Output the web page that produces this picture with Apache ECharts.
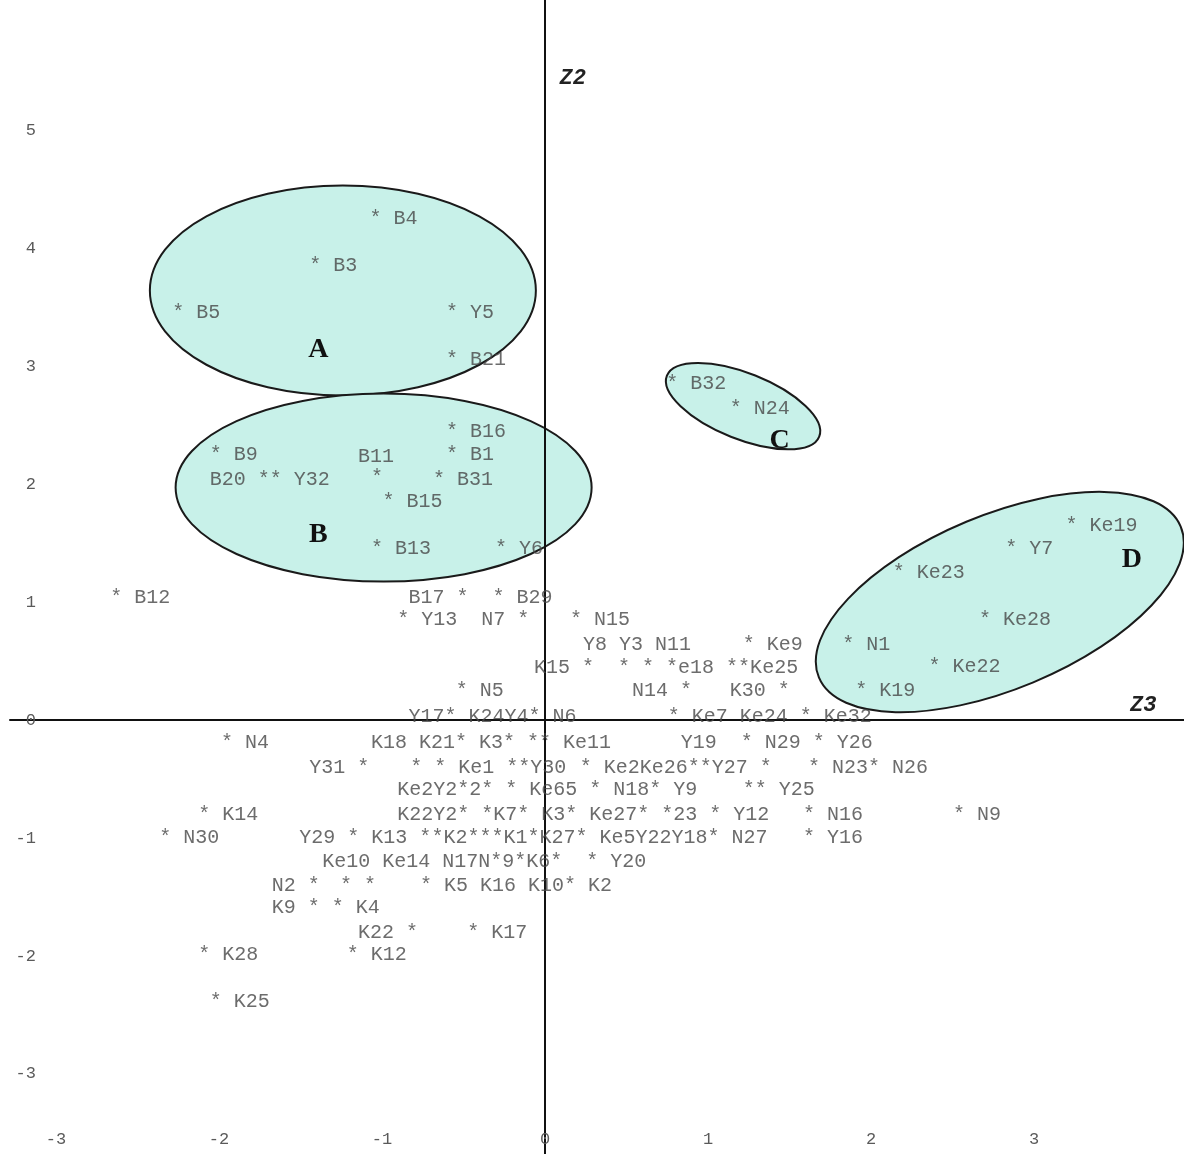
<!DOCTYPE html>
<html>
<head>
<meta charset="utf-8">
<script src="https://cdn.jsdelivr.net/npm/echarts@6/dist/echarts.min.js"></script>
<style>
html, body { margin: 0; padding: 0; background: #fff; }
#chart { width: 1184px; height: 1154px; }
</style>
</head>
<body>
<div id="chart"></div>
<script>
// tick labels
const xTicks = [-3, -2, -1, 0, 1, 2, 3];
const yTicks = [-3, -2, -1, 0, 1, 2, 3, 4, 5];

// [z3, z2, label]  (overlapping labels kept as printed)
const groupA = [
    [-1.08, 4.25, "* B4"],
    [-1.45, 3.85, "* B3"],
    [-2.29, 3.45, "* B5"],
    [-0.61, 3.45, "* Y5"],
    [-0.61, 3.05, "* B21"],
];
const groupB = [
    [-0.61, 2.44, "* B16"],
    [-2.06, 2.25, "* B9"],
    [-1.15, 2.23, "B11"],
    [-0.61, 2.25, "* B1"],
    [-2.06, 2.04, "B20 ** Y32"],
    [-1.07, 2.05, "*"],
    [-0.69, 2.04, "* B31"],
    [-1.00, 1.85, "* B15"],
    [-1.07, 1.45, "* B13"],
    [-0.31, 1.45, "* Y6"],
];
const groupC = [
    [0.74, 2.85, "* B32"],
    [1.13, 2.64, "* N24"],
];
const groupD = [
    [3.19, 1.65, "* Ke19"],
    [2.82, 1.45, "* Y7"],
    [2.13, 1.25, "* Ke23"],
    [2.66, 0.85, "* Ke28"],
    [1.82, 0.64, "* N1"],
    [2.35, 0.45, "* Ke22"],
    [1.90, 0.25, "* K19"],
];
const others = [
    [-2.67, 1.04, "* B12"],
    [-0.84, 1.04, "B17 *  * B29"],
    [-0.91, 0.85, "* Y13  N7 *"],
    [0.15, 0.85, "* N15"],
    [0.23, 0.64, "Y8 Y3 N11"],
    [1.21, 0.64, "* Ke9"],
    [-0.07, 0.44, "K15 *  * * *e18 **Ke25"],
    [-0.55, 0.25, "* N5"],
    [0.53, 0.25, "N14 *"],
    [1.13, 0.25, "K30 *"],
    [-0.84, 0.03, "Y17* K24Y4* N6"],
    [0.75, 0.03, "* Ke7 Ke24 * Ke32"],
    [-1.99, -0.19, "* N4"],
    [-1.07, -0.19, "K18 K21* K3* ** Ke11"],
    [0.83, -0.19, "Y19  * N29 * Y26"],
    [-1.45, -0.40, "Y31 *"],
    [-0.83, -0.40, "* * Ke1 **Y30"],
    [0.21, -0.40, "* Ke2Ke26**Y27 *"],
    [1.61, -0.40, "* N23* N26"],
    [-0.91, -0.59, "Ke2Y2*2* * Ke65 * N18* Y9"],
    [1.21, -0.59, "** Y25"],
    [-2.13, -0.80, "* K14"],
    [-0.91, -0.80, "K22Y2* *K7* K3* Ke27* *23 * Y12"],
    [1.58, -0.80, "* N16"],
    [2.50, -0.80, "* N9"],
    [-2.37, -1.00, "* N30"],
    [-1.51, -1.00, "Y29 * K13 **K2***K1*K27* Ke5Y22Y18* N27"],
    [1.58, -1.00, "* Y16"],
    [-1.37, -1.20, "Ke10 Ke14 N17N*9*K6*  * Y20"],
    [-1.68, -1.40, "N2 *"],
    [-1.26, -1.40, "* *"],
    [-0.77, -1.40, "* K5 K16 K10* K2"],
    [-1.68, -1.59, "K9 * * K4"],
    [-1.15, -1.80, "K22 *"],
    [-0.48, -1.80, "* K17"],
    [-2.13, -1.99, "* K28"],
    [-1.22, -1.99, "* K12"],
    [-2.06, -2.39, "* K25"],
];

// cluster ellipses: centre in data units, radii in px
const clusters = [
    { tag: "A", center: [-1.24, 3.64], rx: 193, ry: 105, rot: 0, tagAt: [-1.39, 3.14] },
    { tag: "B", center: [-0.99, 1.97], rx: 208, ry: 94, rot: 0, tagAt: [-1.39, 1.57] },
    { tag: "C", center: [1.215, 2.66], rx: 82, ry: 33, rot: -0.38, tagAt: [1.44, 2.37] },
    { tag: "D", center: [2.79, 1.0], rx: 196, ry: 87, rot: 0.395, tagAt: [3.60, 1.36] },
];

const mono = "'Liberation Mono', 'DejaVu Sans Mono', monospace";
const X_MIN = -3.282, X_MAX = 3.92;
const Y_MIN = -3.678, Y_MAX = 6.102;

const chart = echarts.init(document.getElementById("chart"));

const labelSeries = (data) => ({
    type: "scatter",
    data: data,
    symbol: "circle",
    symbolSize: 1,
    itemStyle: { color: "rgba(0,0,0,0)" },
    z: 5,
    silent: true,
    label: {
        show: true,
        position: "right",
        distance: 0,
        formatter: (p) => p.data[2],
        fontFamily: mono,
        fontSize: 20,
        color: "#474747",
    },
});

const option = {
    animation: false,
    backgroundColor: "#fff",
    grid: { left: 10, right: 0, top: 0, bottom: 0 },
    xAxis: [
        {
            type: "value", min: X_MIN, max: X_MAX,
            axisLine: { show: true, onZero: true, lineStyle: { color: "#111", width: 2 } },
            axisTick: { show: false }, axisLabel: { show: false }, splitLine: { show: false },
        },
        {
            type: "value", min: X_MIN, max: X_MAX, position: "bottom",
            axisLine: { show: false, onZero: false },
            axisTick: { show: false }, splitLine: { show: false },
            axisLabel: {
                inside: true, margin: 6, customValues: xTicks,
                fontFamily: mono, fontSize: 17, color: "#5a5a5a",
            },
        },
    ],
    yAxis: [
        {
            type: "value", min: Y_MIN, max: Y_MAX,
            axisLine: { show: true, onZero: true, lineStyle: { color: "#111", width: 2 } },
            axisTick: { show: false }, axisLabel: { show: false }, splitLine: { show: false },
        },
        {
            type: "value", min: Y_MIN, max: Y_MAX, position: "left",
            axisLine: { show: false, onZero: false },
            axisTick: { show: false }, splitLine: { show: false },
            axisLabel: {
                inside: true, margin: 26, align: "right", customValues: yTicks,
                fontFamily: mono, fontSize: 17, color: "#5a5a5a",
            },
        },
    ],
    series: [
        labelSeries(groupA),
        labelSeries(groupB),
        labelSeries(groupC),
        labelSeries(groupD),
        labelSeries(others),
    ],
};

chart.setOption(option);

// ellipses, cluster letters and axis names need pixel positions
const px = (p) => chart.convertToPixel({ gridIndex: 0 }, p);
const elements = [];
clusters.forEach((c) => {
    const ctr = px(c.center);
    elements.push({
        type: "ellipse",
        x: ctr[0], y: ctr[1],
        rotation: c.rot,
        shape: { cx: 0, cy: 0, rx: c.rx, ry: c.ry },
        style: { fill: "#c8f1e9", stroke: "#1a1a1a", lineWidth: 2 },
        z: -10,
        silent: true,
    });
    const t = px(c.tagAt);
    elements.push({
        type: "text",
        x: t[0], y: t[1],
        style: {
            text: c.tag, fill: "#111",
            font: "bold 28px 'Liberation Serif', 'DejaVu Serif', serif",
            textAlign: "center", textVerticalAlign: "middle",
        },
        z: 10,
    });
});
const z2 = px([0.17, 5.44]);
const z3 = px([3.67, 0.12]);
[[z2, "Z2"], [z3, "Z3"]].forEach(([p, s]) => {
    elements.push({
        type: "text",
        x: p[0], y: p[1],
        style: {
            text: s, fill: "#222",
            font: "italic bold 22px " + mono,
            textAlign: "center", textVerticalAlign: "middle",
        },
        z: 10,
    });
});
chart.setOption({ graphic: { elements: elements } });
</script>
</body>
</html>
